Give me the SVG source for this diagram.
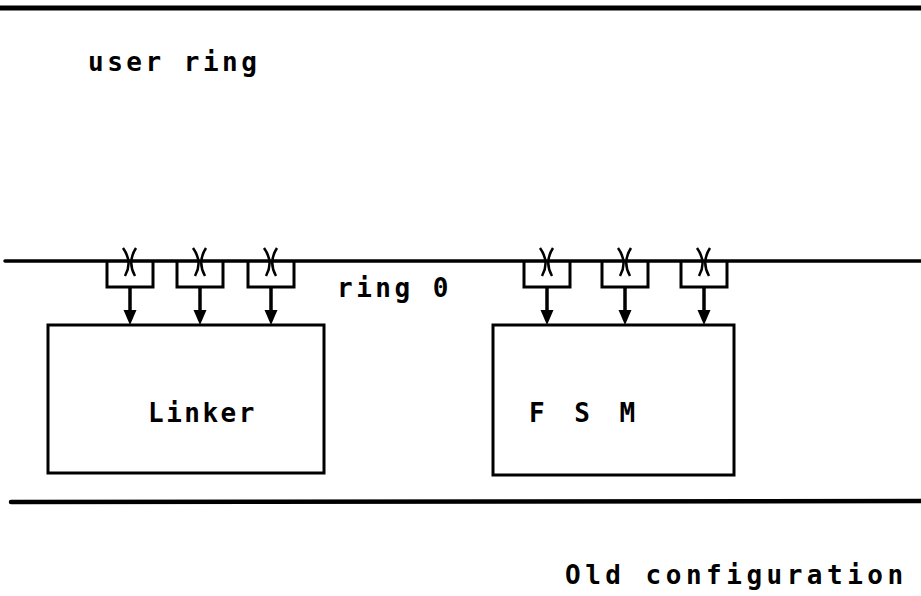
<svg xmlns="http://www.w3.org/2000/svg" width="921" height="596" viewBox="0 0 921 596">
<defs>
<style>
.ring{stroke:#000;fill:none;stroke-linecap:round}
.box{stroke:#000;stroke-width:3;fill:#fff}
.gate{stroke:#000;stroke-width:3;fill:none}
.x{stroke:#000;stroke-width:2.5;fill:none}
.arr{stroke:#000;stroke-width:3.5}
.t{font-family:"DejaVu Sans Mono","Liberation Mono",monospace;font-weight:bold;font-size:26px;letter-spacing:3.5px;fill:#000}
</style>
<g id="gatedef">
<path class="gate" d="M-23,0 V26 H23 V0"/>
<path class="x" d="M-7,-13 Q3,1 -5,15 M6,-13 Q-3,1 5,15"/>
<line class="arr" x1="0" y1="26" x2="0" y2="52"/>
<path d="M-6.5,49 L6.5,49 L0,64 Z" fill="#000"/>
</g>
</defs>
<g id="rings">
<line class="ring" x1="0" y1="8" x2="921" y2="8" stroke-width="5"/>
<line class="ring" x1="5" y1="261" x2="921" y2="261" stroke-width="3.5"/>
<line class="ring" x1="11" y1="502" x2="921" y2="501" stroke-width="4.5"/>
</g>
<g id="labels">
<text class="t" x="88" y="71">user ring</text>
<text class="t" x="337" y="297">ring 0</text>
<text class="t" x="565" y="584" style="letter-spacing:4.5px">Old configuration</text>
</g>
<g id="linker">
<rect class="box" x="48" y="325" width="276" height="148"/>
<text class="t" x="148" y="422" style="letter-spacing:2.5px">Linker</text>
</g>
<g id="fsm">
<rect class="box" x="493" y="325" width="241" height="150"/>
<text class="t" x="529" y="422" style="letter-spacing:7px">F S M</text>
</g>
<g id="connectors">
<use href="#gatedef" x="130" y="261"/>
<use href="#gatedef" x="200" y="261"/>
<use href="#gatedef" x="271" y="261"/>
<use href="#gatedef" x="547" y="261"/>
<use href="#gatedef" x="625" y="261"/>
<use href="#gatedef" x="704" y="261"/>
</g>
</svg>
